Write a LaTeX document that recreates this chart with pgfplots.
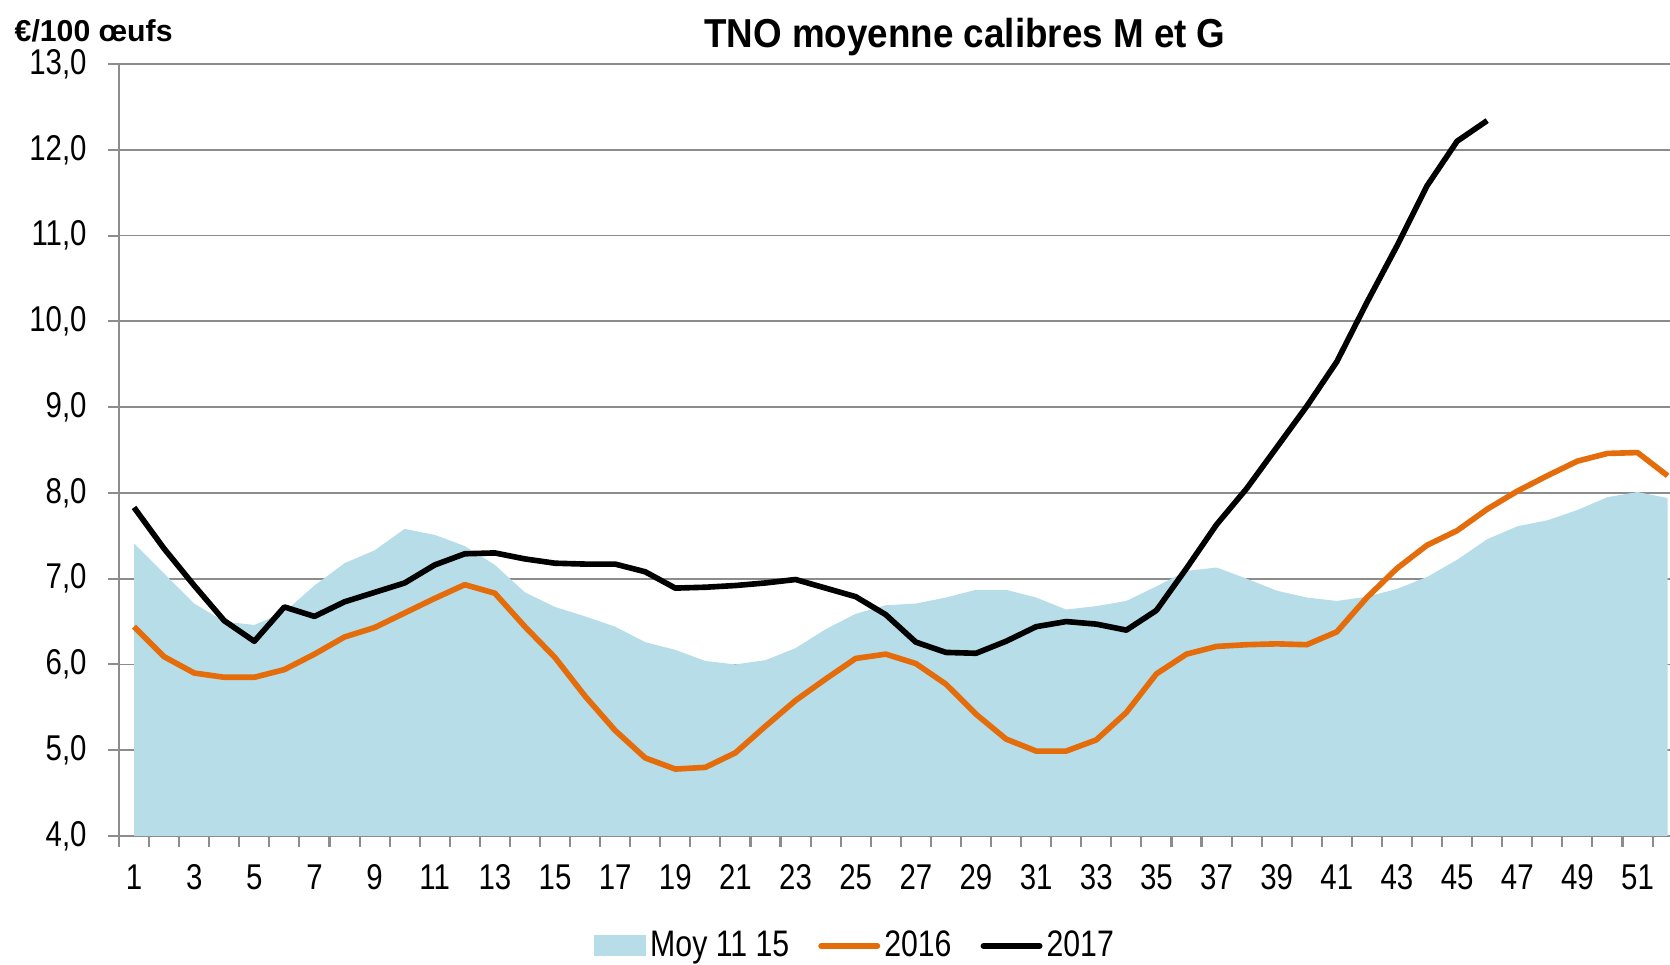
\documentclass[border=0pt]{standalone}
\usepackage{fontspec}
\setmainfont{Liberation Sans}[FakeStretch=0.82]
\newfontfamily\labelfont{Liberation Sans}
\newfontfamily\titlefont{Liberation Sans}[FakeStretch=0.91]
\usepackage{pgfplots}
\pgfplotsset{compat=1.18}
\definecolor{areacol}{HTML}{B7DDE8}
\definecolor{orangecol}{HTML}{E46C0A}
\definecolor{gridcol}{HTML}{8C8C8C}
\begin{document}
\begin{tikzpicture}
\begin{axis}[
  at={(11.9mm,12.9mm)}, anchor=south west,
  scale only axis, width=155.1mm, height=77.2mm,
  xmin=0.5, xmax=52.08, ymin=4, ymax=13,
  axis x line=bottom, axis y line=left,
  axis line style={gridcol, line width=0.6pt, -},
  xtick={0.5,1.5,...,51.5}, xticklabels={},
  extra x ticks={1,3,...,51},
  extra x tick labels={1,3,5,7,9,11,13,15,17,19,21,23,25,27,29,31,33,35,37,39,41,43,45,47,49,51},
  extra x tick style={major tick length=0pt, tick style={draw=none}},
  ytick={4,5,...,13},
  major tick length=1.1mm,
  tick align=outside,
  tick style={gridcol, line width=0.6pt},
  ymajorgrids, grid style={gridcol, line width=0.5pt},
  tick label style={font=\fontsize{10.2}{12}\selectfont},
  /pgf/number format/assume math mode=true,
  yticklabel style={/pgf/number format/.cd, fixed, fixed zerofill, precision=1, use comma, /tikz/.cd, xshift=-0.9mm},
  xticklabel style={yshift=-1.6mm},
  legend style={at={(0.4752,-0.1425)}, anchor=center, draw=none, fill=none,
    legend columns=-1, font=\fontsize{10.5}{12.5}\selectfont,
    nodes={inner sep=0.4mm},
    /tikz/every even column/.append style={column sep=2.5mm}},
]
\addplot[fill=areacol, draw=none,
  legend image code/.code={\fill[areacol] (0mm,-1.05mm) rectangle (5.2mm,1.05mm);}]
coordinates {
(1,7.41)(2,7.06)(3,6.71)(4,6.50)(5,6.46)(6,6.61)(7,6.92)(8,7.18)(9,7.33)(10,7.58)
(11,7.51)(12,7.38)(13,7.16)(14,6.84)(15,6.67)(16,6.56)(17,6.44)(18,6.26)(19,6.17)(20,6.04)
(21,6.00)(22,6.05)(23,6.19)(24,6.41)(25,6.59)(26,6.69)(27,6.71)(28,6.78)(29,6.87)(30,6.87)
(31,6.78)(32,6.64)(33,6.68)(34,6.74)(35,6.91)(36,7.09)(37,7.13)(38,7.00)(39,6.86)(40,6.78)
(41,6.74)(42,6.79)(43,6.88)(44,7.02)(45,7.22)(46,7.46)(47,7.61)(48,7.68)(49,7.80)(50,7.95)
(51,8.01)(52,7.94)
} \closedcycle;
\addlegendentry{Moy 11 15}
\addplot[orangecol, line width=1.6pt, line join=round, no marks,
  legend image code/.code={\draw[orangecol, line width=1.7pt, line cap=round] (0mm,0mm) -- (5.6mm,0mm);}]
coordinates {
(1,6.44)(2,6.09)(3,5.90)(4,5.85)(5,5.85)(6,5.94)(7,6.12)(8,6.32)(9,6.43)(10,6.60)
(11,6.77)(12,6.93)(13,6.83)(14,6.44)(15,6.08)(16,5.63)(17,5.23)(18,4.91)(19,4.78)(20,4.80)
(21,4.97)(22,5.28)(23,5.58)(24,5.83)(25,6.07)(26,6.12)(27,6.01)(28,5.77)(29,5.42)(30,5.13)
(31,4.99)(32,4.99)(33,5.12)(34,5.44)(35,5.89)(36,6.12)(37,6.21)(38,6.23)(39,6.24)(40,6.23)
(41,6.38)(42,6.78)(43,7.12)(44,7.39)(45,7.56)(46,7.81)(47,8.02)(48,8.20)(49,8.37)(50,8.46)
(51,8.47)(52,8.20)
};
\addlegendentry{2016}
\addplot[black, line width=1.6pt, line join=round, no marks,
  legend image code/.code={\draw[black, line width=1.7pt, line cap=round] (0mm,0mm) -- (5.6mm,0mm);}]
coordinates {
(1,7.83)(2,7.35)(3,6.92)(4,6.51)(5,6.27)(6,6.67)(7,6.56)(8,6.73)(9,6.84)(10,6.95)
(11,7.16)(12,7.29)(13,7.30)(14,7.23)(15,7.18)(16,7.17)(17,7.17)(18,7.08)(19,6.89)(20,6.90)
(21,6.92)(22,6.95)(23,6.99)(24,6.89)(25,6.79)(26,6.58)(27,6.26)(28,6.14)(29,6.13)(30,6.27)
(31,6.44)(32,6.50)(33,6.47)(34,6.40)(35,6.63)(36,7.12)(37,7.63)(38,8.05)(39,8.53)(40,9.01)
(41,9.53)(42,10.22)(43,10.88)(44,11.58)(45,12.10)(46,12.34)
};
\addlegendentry{2017}
\end{axis}
\node[anchor=base, font=\titlefont\bfseries\fontsize{11.5}{13.5}\selectfont] at (96.5mm,91.7mm) {TNO moyenne calibres M et G};
\node[anchor=base west, inner sep=0pt, font=\labelfont\bfseries\fontsize{8.6}{10}\selectfont] at (1.4mm,92.3mm) {€/100 œufs};
\pgfresetboundingbox
\path[use as bounding box] (0,0) rectangle (167mm,96.5mm);
\end{tikzpicture}
\end{document}
